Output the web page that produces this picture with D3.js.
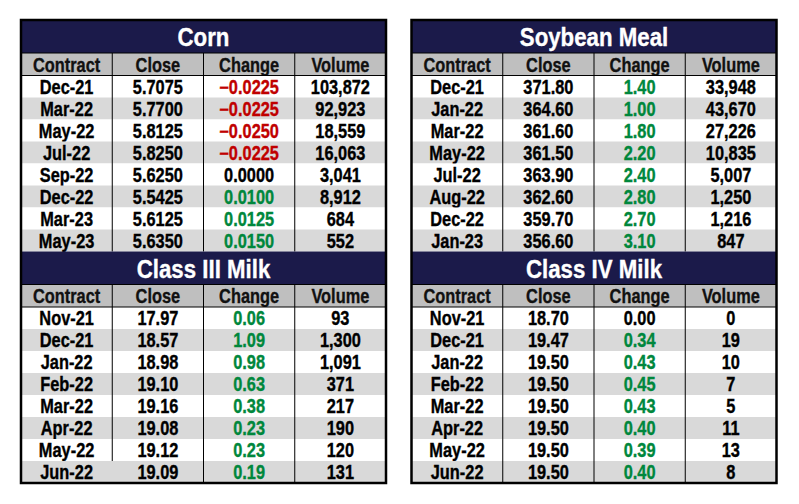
<!DOCTYPE html>
<html>
<head>
<meta charset="utf-8">
<script src="https://cdn.jsdelivr.net/npm/d3@7"></script>
<style>
  html, body { margin: 0; padding: 0; background: #fff; }
  text { font-family: "Liberation Sans", Arial, sans-serif; font-weight: bold; }
</style>
</head>
<body>
<div id="chart"></div>
<script>
// ── Data ──────────────────────────────────────────────────────────────────────
const COLUMNS = ["Contract", "Close", "Change", "Volume"];

const cornContracts = ["Dec-21", "Mar-22", "May-22", "Jul-22", "Sep-22", "Dec-22", "Mar-23", "May-23"];
const cornClose     = [5.7075, 5.7700, 5.8125, 5.8250, 5.6250, 5.5425, 5.6125, 5.6350];
const cornChange    = [-0.0225, -0.0225, -0.0250, -0.0225, 0.0000, 0.0100, 0.0125, 0.0150];
const cornVolume    = [103872, 92923, 18559, 16063, 3041, 8912, 684, 552];

const mealContracts = ["Dec-21", "Jan-22", "Mar-22", "May-22", "Jul-22", "Aug-22", "Dec-22", "Jan-23"];
const mealClose     = [371.80, 364.60, 361.60, 361.50, 363.90, 362.60, 359.70, 356.60];
const mealChange    = [1.40, 1.00, 1.80, 2.20, 2.40, 2.80, 2.70, 3.10];
const mealVolume    = [33948, 43670, 27226, 10835, 5007, 1250, 1216, 847];

const milk3Contracts = ["Nov-21", "Dec-21", "Jan-22", "Feb-22", "Mar-22", "Apr-22", "May-22", "Jun-22"];
const milk3Close     = [17.97, 18.57, 18.98, 19.10, 19.16, 19.08, 19.12, 19.09];
const milk3Change    = [0.06, 1.09, 0.98, 0.63, 0.38, 0.23, 0.23, 0.19];
const milk3Volume    = [93, 1300, 1091, 371, 217, 190, 120, 131];

const milk4Contracts = ["Nov-21", "Dec-21", "Jan-22", "Feb-22", "Mar-22", "Apr-22", "May-22", "Jun-22"];
const milk4Close     = [18.70, 19.47, 19.50, 19.50, 19.50, 19.50, 19.50, 19.50];
const milk4Change    = [0.00, 0.34, 0.43, 0.45, 0.43, 0.40, 0.39, 0.40];
const milk4Volume    = [0, 19, 10, 7, 5, 11, 13, 8];

// ── Layout / style ────────────────────────────────────────────────────────────
const W = 799, H = 504;
const NAVY = "#1b1a4a", HEAD = "#bfbfbf", ALT = "#d9d9d9";
const RED = "#c00000", GREEN = "#00873c";
const PANEL_X = [21, 411.5], PANEL_W = 365;
const SECTION_Y = [20, 251.5];
const TITLE_H = 33, HEADER_H = 22.5, BODY_H = 176;
const SX = 0.84;     // horizontal squeeze -> narrow look
const FS = 19.5;     // cell font size

const tables = [
  { title: "Corn", col: 0, sec: 0, dec: 4,
    contracts: cornContracts, close: cornClose, change: cornChange, volume: cornVolume },
  { title: "Soybean Meal", col: 1, sec: 0, dec: 2,
    contracts: mealContracts, close: mealClose, change: mealChange, volume: mealVolume },
  { title: "Class III Milk", col: 0, sec: 1, dec: 2, openLast: true,
    contracts: milk3Contracts, close: milk3Close, change: milk3Change, volume: milk3Volume },
  { title: "Class IV Milk", col: 1, sec: 1, dec: 2,
    contracts: milk4Contracts, close: milk4Close, change: milk4Change, volume: milk4Volume },
];

// ── SVG ───────────────────────────────────────────────────────────────────────
const svg = d3.select("#chart").append("svg")
  .attr("width", W).attr("height", H);

const fmtVol = d3.format(",");

// narrow centred label, slightly heavier stroke like the original
function label(sel, x, y) {
  return sel.attr("transform", (d, i) =>
      `translate(${typeof x === "function" ? x(d, i) : x},${typeof y === "function" ? y(d, i) : y}) scale(${SX},1)`)
    .attr("text-anchor", "middle")
    .attr("stroke-width", 0.35);
}

function drawTable(t) {
  const x0 = PANEL_X[t.col], y0 = SECTION_Y[t.sec];
  const g = svg.append("g");

  const xScale = d3.scaleBand().domain(COLUMNS).range([x0, x0 + PANEL_W]);
  const headTop = y0 + TITLE_H, bodyTop = headTop + HEADER_H;
  const yScale = d3.scaleBand().domain(d3.range(t.contracts.length))
    .range([bodyTop, bodyTop + BODY_H]);

  const fmt = d3.format(`.${t.dec}f`);
  const rows = t.contracts.map((c, i) => ({
    i,
    cells: [
      { text: c, fill: "#000" },
      { text: fmt(t.close[i]), fill: "#000" },
      { text: fmt(t.change[i]), fill: t.change[i] < 0 ? RED : t.change[i] > 0 ? GREEN : "#000" },
      { text: fmtVol(t.volume[i]), fill: "#000" },
    ],
  }));

  // title band
  g.append("rect").attr("x", x0).attr("y", y0).attr("width", PANEL_W).attr("height", TITLE_H)
    .attr("fill", NAVY);
  g.append("text").call(label, x0 + PANEL_W / 2, y0 + TITLE_H / 2 + 9.5)
    .attr("font-size", 26.5).attr("fill", "#fff").attr("stroke", "#fff")
    .text(t.title);

  // header row
  g.append("rect").attr("x", x0).attr("y", headTop).attr("width", PANEL_W).attr("height", HEADER_H)
    .attr("fill", HEAD);
  g.selectAll(".hd").data(COLUMNS).join("text")
    .call(label, d => xScale(d) + xScale.bandwidth() / 2, headTop + HEADER_H / 2 + 7.5)
    .attr("font-size", FS).attr("fill", "#111").attr("stroke", "#111")
    .text(d => d);

  // body rows
  const rowG = g.selectAll(".row").data(rows).join("g");
  rowG.append("rect")
    .attr("x", x0).attr("y", d => yScale(d.i))
    .attr("width", PANEL_W).attr("height", yScale.bandwidth())
    .attr("fill", d => d.i % 2 ? ALT : "#fff");
  rowG.selectAll("text").data(d => d.cells.map((c, k) => ({ ...c, k, i: d.i }))).join("text")
    .call(label,
      d => xScale(COLUMNS[d.k]) + xScale.bandwidth() / 2,
      d => yScale(d.i) + yScale.bandwidth() / 2 + 7)
    .attr("font-size", FS)
    .attr("fill", d => d.fill).attr("stroke", d => d.fill)
    .text(d => d.text);

  // grid lines
  const lastTop = yScale(t.contracts.length - 1);
  COLUMNS.slice(1).forEach((c, k) => {
    const yEnd = (t.openLast && k === 0) ? lastTop : bodyTop + BODY_H;
    g.append("line")
      .attr("x1", xScale(c)).attr("x2", xScale(c))
      .attr("y1", headTop).attr("y2", yEnd)
      .attr("stroke", "#000").attr("stroke-width", 1);
  });
  [headTop, bodyTop].forEach(y => {
    g.append("line").attr("x1", x0).attr("x2", x0 + PANEL_W)
      .attr("y1", y).attr("y2", y)
      .attr("stroke", "#000").attr("stroke-width", 1);
  });
}

tables.forEach(drawTable);

// outer borders per panel column
PANEL_X.forEach(x => {
  svg.append("rect")
    .attr("x", x).attr("y", SECTION_Y[0])
    .attr("width", PANEL_W).attr("height", SECTION_Y[1] - SECTION_Y[0] + TITLE_H + HEADER_H + BODY_H)
    .attr("fill", "none").attr("stroke", "#000").attr("stroke-width", 2.5);
});
</script>
</body>
</html>
